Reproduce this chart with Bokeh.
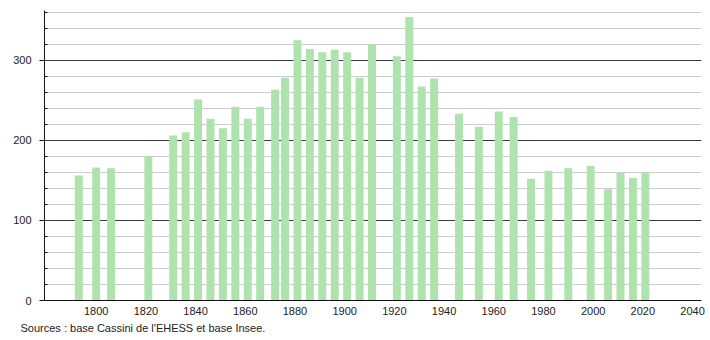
from bokeh.plotting import figure
from bokeh.models import FixedTicker, Range1d, Title
from bokeh.embed import file_html
from bokeh.resources import INLINE

years = [1793, 1800, 1806, 1821, 1831, 1836, 1841, 1846, 1851, 1856, 1861, 1866,
         1872, 1876, 1881, 1886, 1891, 1896, 1901, 1906, 1911, 1921, 1926, 1931,
         1936, 1946, 1954, 1962, 1968, 1975, 1982, 1990, 1999, 2006, 2011, 2016, 2021]
population = [156, 166, 165, 180, 206, 210, 251, 227, 215, 242, 227, 242,
              263, 278, 325, 314, 310, 313, 310, 278, 320, 305, 354, 267,
              277, 233, 217, 236, 229, 152, 162, 165, 168, 139, 159, 153, 160]
x_ticks = [1800, 1820, 1840, 1860, 1880, 1900, 1920, 1940, 1960, 1980, 2000, 2020, 2040]
y_major = [0, 100, 200, 300]
y_minor = [20, 40, 60, 80, 120, 140, 160, 180, 220, 240, 260, 280, 320, 340, 360]
source_text = "Sources : base Cassini de l'EHESS et base Insee."

p = figure(width=710, height=340, output_backend="svg", toolbar_location=None,
           x_range=Range1d(1779.2, 2043.6), y_range=Range1d(0, 362),
           min_border_left=44, min_border_right=9, min_border_top=10, min_border_bottom=40)
p.outline_line_color = None
p.background_fill_color = "white"
p.border_fill_color = "white"

p.vbar(x=years, top=population, width=3.2, bottom=0,
       fill_color="#aee3ae", line_color=None)

# grids
p.xgrid.visible = False
p.ygrid.ticker = FixedTicker(ticks=y_major, minor_ticks=y_minor)
p.ygrid.grid_line_color = "#3a3a3a"
p.ygrid.grid_line_width = 1
p.ygrid.minor_grid_line_color = "#cccccc"
p.ygrid.minor_grid_line_width = 1

# y axis
p.yaxis.ticker = FixedTicker(ticks=y_major, minor_ticks=y_minor)
p.yaxis.axis_line_color = "#111111"
p.yaxis.major_tick_out = 5
p.yaxis.major_tick_in = 0
p.yaxis.minor_tick_in = 3
p.yaxis.minor_tick_out = 0
p.yaxis.major_tick_line_color = "#111111"
p.yaxis.minor_tick_line_color = "#111111"
p.yaxis.major_label_text_font = "Liberation Sans"
p.yaxis.major_label_text_font_size = "11px"
p.yaxis.major_label_text_color = "#222222"
p.yaxis.major_label_standoff = 8

# x axis
p.xaxis.ticker = FixedTicker(ticks=x_ticks)
p.xaxis.axis_line_color = "#111111"
p.xaxis.major_tick_out = 0
p.xaxis.major_tick_in = 0
p.xaxis.minor_tick_out = 0
p.xaxis.minor_tick_in = 0
p.xaxis.major_label_text_font = "Liberation Sans"
p.xaxis.major_label_text_font_size = "11px"
p.xaxis.major_label_text_color = "#222222"
p.xaxis.major_label_standoff = 6

src = Title(text=source_text, align="left", offset=-24, standoff=4,
            text_font="Liberation Sans", text_font_size="11px",
            text_font_style="normal", text_color="#222222")
p.add_layout(src, "below")

open("out.html", "w").write(file_html(p, INLINE))
